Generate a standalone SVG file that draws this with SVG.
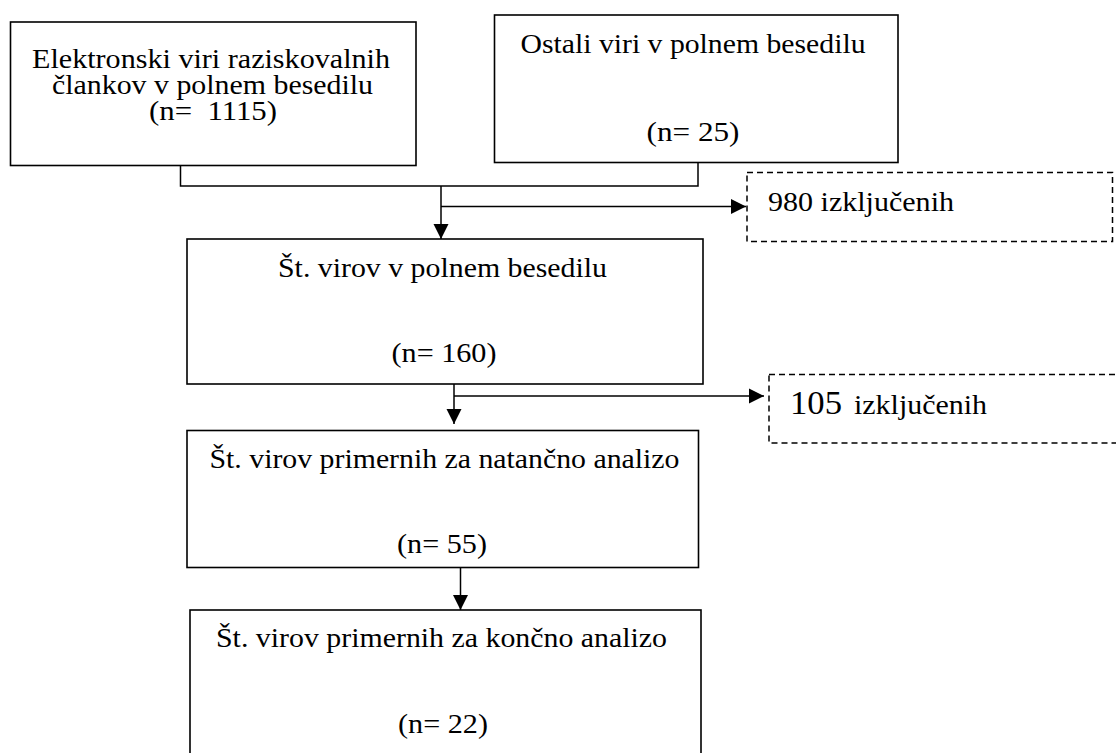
<svg xmlns="http://www.w3.org/2000/svg" width="1116" height="753" viewBox="0 0 1116 753">
<style>
.box{fill:#fff;stroke:#000;stroke-width:1.6}
.dash{fill:#fff;stroke:#000;stroke-width:1.5;stroke-dasharray:6 4}
.ln{fill:none;stroke:#000;stroke-width:1.5}
.t{font-family:'Liberation Serif','Times New Roman',Times,serif;font-size:28px;fill:#000}
.c{text-anchor:middle}
</style>
<defs>
<marker id="ah" viewBox="0 0 10 10" refX="10" refY="5" markerWidth="15" markerHeight="16" markerUnits="userSpaceOnUse" orient="auto">
<path d="M0,0 L10,5 L0,10 Z" fill="#000"/>
</marker>
</defs>
<rect width="1116" height="753" fill="#fff"/>

<g id="connectors">
<path class="ln" d="M180.5,165 V186 H698 V162"/>
<path class="ln" d="M441,186 V239" marker-end="url(#ah)"/>
<path class="ln" d="M441,206.5 H746" marker-end="url(#ah)"/>
<path class="ln" d="M454,375 V424" marker-end="url(#ah)"/>
<path class="ln" d="M454,396 H764" marker-end="url(#ah)"/>
<path class="ln" d="M460.5,567.5 V610" marker-end="url(#ah)"/>
</g>

<g id="n1" class="t">
<rect class="box" x="10.5" y="22" width="405.5" height="143.5"/>
<text class="c" x="211" y="68" textLength="358" lengthAdjust="spacingAndGlyphs" style="font-size:27px">Elektronski viri raziskovalnih</text>
<text class="c" x="212.5" y="94" textLength="321" lengthAdjust="spacingAndGlyphs" style="font-size:27px">člankov v polnem besedilu</text>
<text class="c" x="213" y="120" textLength="128" lengthAdjust="spacingAndGlyphs" style="font-size:27px">(n=&#160; 1115)</text>
</g>

<g id="n2" class="t">
<rect class="box" x="494.5" y="15" width="403.5" height="147.5"/>
<text class="c" x="693" y="53" textLength="345" lengthAdjust="spacingAndGlyphs">Ostali viri v polnem besedilu</text>
<text class="c" x="693" y="141" textLength="93" lengthAdjust="spacingAndGlyphs">(n= 25)</text>
</g>

<g id="n3" class="t">
<rect class="dash" x="747" y="172.5" width="365.5" height="69"/>
<text x="768" y="211" textLength="186" lengthAdjust="spacingAndGlyphs">980 izključenih</text>
</g>

<g id="n4" class="t">
<rect class="box" x="187" y="239" width="516" height="145"/>
<text class="c" x="442.5" y="277" textLength="329" lengthAdjust="spacingAndGlyphs">Št. virov v polnem besedilu</text>
<text class="c" x="444" y="362" textLength="105" lengthAdjust="spacingAndGlyphs">(n= 160)</text>
</g>

<g id="n5" class="t">
<rect class="dash" x="769" y="374.5" width="360" height="68.5"/>
<text y="414"><tspan x="790" font-size="33" textLength="52" lengthAdjust="spacingAndGlyphs">105</tspan><tspan x="854" textLength="133" lengthAdjust="spacingAndGlyphs">izključenih</tspan></text>
</g>

<g id="n6" class="t">
<rect class="box" x="187" y="430.5" width="511.5" height="137"/>
<text x="209.5" y="468" textLength="470" lengthAdjust="spacingAndGlyphs">Št. virov primernih za natančno analizo</text>
<text class="c" x="442" y="553" textLength="90" lengthAdjust="spacingAndGlyphs">(n= 55)</text>
</g>

<g id="n7" class="t">
<rect class="box" x="190" y="610" width="511" height="160"/>
<text x="216" y="647" textLength="451" lengthAdjust="spacingAndGlyphs">Št. virov primernih za končno analizo</text>
<text class="c" x="443" y="733" textLength="90" lengthAdjust="spacingAndGlyphs">(n= 22)</text>
</g>
</svg>
